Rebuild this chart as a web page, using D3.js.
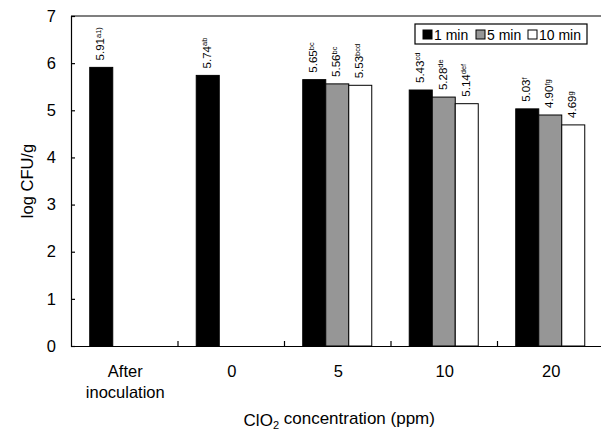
<!DOCTYPE html>
<html>
<head>
<meta charset="utf-8">
<title>ClO2 log CFU/g</title>
<script src="https://cdn.jsdelivr.net/npm/d3@7"></script>
<style>
  body { margin: 0; background: #fff; }
  svg text { font-family: "Liberation Sans", Arial, sans-serif; fill: #000; }
  .axis path, .axis line { stroke: #000; stroke-width: 1.2; }
</style>
</head>
<body>
<script>
// ---- data ----
var categories = ["After inoculation", "0", "5", "10", "20"];
var series = ["1 min", "5 min", "10 min"];
var min1  = [5.91, 5.74, 5.65, 5.43, 5.03];
var min5  = [null, null, 5.56, 5.28, 4.90];
var min10 = [null, null, 5.53, 5.14, 4.69];
var sup1  = ["a1)", "ab", "bc", "cd", "f"];
var sup5  = [null, null, "bc", "de", "fg"];
var sup10 = [null, null, "bcd", "def", "g"];
var yTicks = [0, 1, 2, 3, 4, 5, 6, 7];
var colors = ["#000000", "#969696", "#ffffff"];

// ---- size ----
var W = 601, H = 431;
var margin = {top: 16, right: -2.5, bottom: 85, left: 71};
var width = W - margin.left - margin.right;
var height = H - margin.top - margin.bottom;

var svg = d3.select("body").append("svg")
    .attr("width", W)
    .attr("height", H);

var g = svg.append("g")
    .attr("transform", "translate(" + margin.left + "," + margin.top + ")");

// ---- scales ----
var x = d3.scaleBand()
    .domain(categories)
    .range([0, width])
    .paddingInner(0.352)
    .paddingOuter(0.176);

var xs = d3.scaleBand()
    .domain(series)
    .range([0, x.bandwidth()]);

var xb = d3.scaleLinear().domain([0, categories.length]).range([0, width]);

var y = d3.scaleLinear().domain([0, 7]).range([height, 0]);

// rows of bars
var vals = [min1, min5, min10];
var sups = [sup1, sup5, sup10];
var bars = [];
series.forEach(function(s, si) {
  categories.forEach(function(c, ci) {
    if (vals[si][ci] != null) {
      bars.push({cat: c, ser: s, si: si, v: vals[si][ci], sup: sups[si][ci]});
    }
  });
});

// ---- frame (top border line) ----
g.append("line")
    .attr("x1", 0).attr("x2", width)
    .attr("y1", 0).attr("y2", 0)
    .attr("stroke", "#000").attr("stroke-width", 1.2);

// ---- bars ----
g.selectAll(".bar")
    .data(bars)
    .enter().append("rect")
    .attr("class", "bar")
    .attr("x", function(d) { return x(d.cat) + xs(d.ser); })
    .attr("y", function(d) { return y(d.v); })
    .attr("width", xs.bandwidth())
    .attr("height", function(d) { return height - y(d.v); })
    .attr("fill", function(d) { return colors[d.si]; })
    .attr("stroke", "#000")
    .attr("stroke-width", 1);

// ---- value labels (rotated, with superscript letters) ----
var lab = g.selectAll(".vlab")
    .data(bars)
    .enter().append("text")
    .attr("class", "vlab")
    .attr("transform", function(d) {
      var cx = x(d.cat) + xs(d.ser) + xs.bandwidth() / 2 - 1;
      return "translate(" + cx + "," + (y(d.v) - 7) + ") rotate(-90)";
    })
    .attr("dy", "0.35em")
    .style("font-size", "11.5px");

lab.append("tspan").text(function(d) { return d.v.toFixed(2); });
lab.append("tspan")
    .attr("dy", "-0.45em")
    .style("font-size", "7.5px")
    .text(function(d) { return d.sup; });

// ---- axes ----
var yAxis = d3.axisLeft(y)
    .tickValues(yTicks)
    .tickSize(-4)
    .tickPadding(15)
    .tickFormat(d3.format("d"));

g.append("g").attr("class", "axis").call(yAxis)
    .selectAll("text").style("font-size", "16.5px");

// boundary ticks on x axis
var xAxis = d3.axisBottom(xb)
    .tickValues(d3.range(1, categories.length))
    .tickSize(-5)
    .tickSizeOuter(0)
    .tickFormat("");

g.append("g").attr("class", "axis")
    .attr("transform", "translate(0," + height + ")")
    .call(xAxis);

// category labels
var cl = g.selectAll(".clab")
    .data(categories)
    .enter().append("text")
    .attr("class", "clab")
    .attr("text-anchor", "middle")
    .style("font-size", "16.5px")
    .attr("transform", function(d) {
      return "translate(" + (x(d) + x.bandwidth() / 2 + 1) + "," + (height + 31) + ")";
    });

cl.each(function(d) {
  var words = d === "After inoculation" ? ["After", "inoculation"] : [d];
  var t = d3.select(this);
  words.forEach(function(w, i) {
    t.append("tspan").attr("x", 0).attr("dy", i === 0 ? 0 : 21).text(w);
  });
});

// ---- axis titles ----
var xt = g.append("text")
    .attr("text-anchor", "middle")
    .attr("x", width / 2 + 2)
    .attr("y", height + 80)
    .style("font-size", "17px");
xt.append("tspan").text("ClO");
xt.append("tspan").attr("dy", "0.3em").style("font-size", "11px").text("2");
xt.append("tspan").attr("dy", "-0.3em").text(" concentration (ppm)");

g.append("text")
    .attr("text-anchor", "middle")
    .attr("transform", "translate(" + (-38) + "," + (height / 2) + ") rotate(-90)")
    .style("font-size", "16.5px")
    .text("log CFU/g");

// ---- legend ----
var lg = svg.append("g").attr("transform", "translate(415,24)");
lg.append("rect")
    .attr("width", 172).attr("height", 20)
    .attr("fill", "#fff").attr("stroke", "#000").attr("stroke-width", 1.2);

var legX = [8, 61, 113];
var item = lg.selectAll(".leg")
    .data(series)
    .enter().append("g")
    .attr("class", "leg")
    .attr("transform", function(d, i) { return "translate(" + legX[i] + ",0)"; });

item.append("rect")
    .attr("y", 6).attr("width", 9).attr("height", 9)
    .attr("fill", function(d, i) { return colors[i]; })
    .attr("stroke", "#000").attr("stroke-width", 1);

item.append("text")
    .attr("x", 11).attr("y", 15.5)
    .style("font-size", "14px")
    .text(function(d) { return d; });
</script>
</body>
</html>
